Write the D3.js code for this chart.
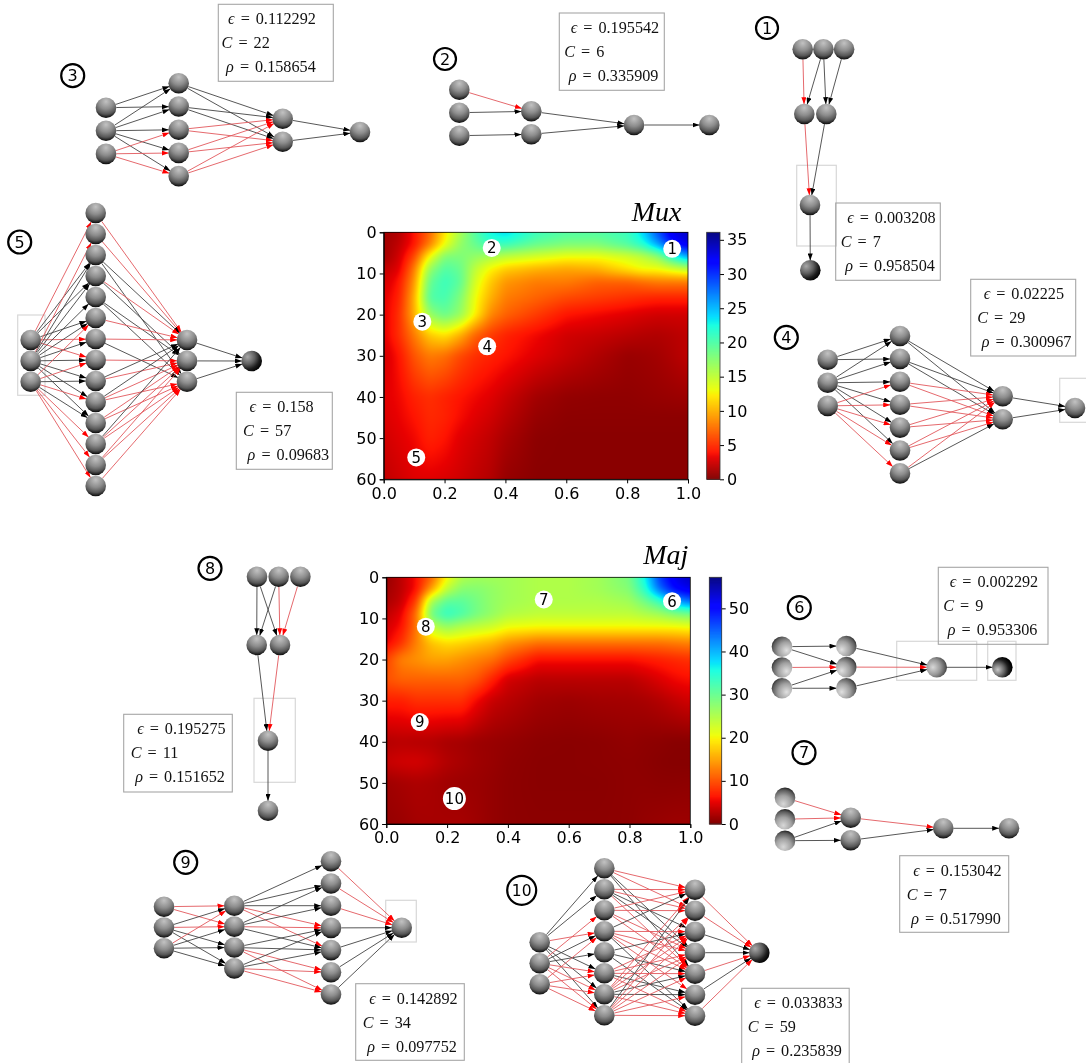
<!DOCTYPE html>
<html><head><meta charset="utf-8">
<script src="https://cdn.jsdelivr.net/npm/d3@7"></script>
<style>
html,body{margin:0;padding:0;background:#fff;overflow:hidden}
#stage{position:relative;width:1086px;height:1063px}
canvas{position:absolute}
svg{position:absolute;left:0;top:0}
</style></head><body><div id="stage"></div>
<script>
// ---------- heat map data ----------
const gridX = [0,.05,.1,.15,.2,.25,.3,.35,.4,.5,.6,.7,.8,.85,.9,.95,1];
const gridY = [0,3,6,9,12,16,20,25,30,40,45,50,60];
const muxValues = [
[1,1.5,4,7,12,16,20,23,24,21,20,20,21,24,29,33,34],
[1,2,4,8,13,17,19,21,21,19,18,18,20,22,26,31,33],
[1,2.5,6,13,18,18,17,16,15,14,13,13,14,15,17,22,26],
[2,3,8,17,20,19,15,12.5,11,10,9.5,10,12,13,13,14,15],
[2.5,4,9,19,21,19.5,14,11,9,8,8,7,7,7.5,8,8,8],
[3,4.5,10,20,20.5,18,13,10,8,7,6,5.5,5,4.7,4.5,4.5,4.5],
[3,5,10,17,19,17,12.5,8.5,7,5.5,4,3.5,3,2.7,2.5,2.5,2.5],
[3,5,8,11,12,10,7,5.5,4.5,3.5,2.5,2.2,1.8,1.6,1.5,1.7,2],
[2.5,4,6.5,8,7.5,6,5,4.5,4,3,2.2,1.5,.8,.9,1.1,1.5,2],
[3,3.5,4.5,5,4.5,4,3.5,3,2.3,1.1,.6,.5,.5,.6,.7,.8,.9],
[2.8,3.3,4,4.8,4.5,3.7,3,2.5,1.8,.7,.4,.4,.4,.4,.4,.4,.4],
[2.5,3,3.5,4.5,4,3,2.5,2,1.3,.4,.3,.3,.3,.3,.3,.3,.3],
[2,2.5,3,3,2.8,2.5,2,1.6,.7,.3,.3,.3,.3,.3,.3,.3,.3]];
const majValues = [
[1,3,6,11,20,25,26,26,26,25,25,26,29,36,47,52,54],
[1.5,3,6,15,24,28,28,27,26,25,25,26,28,34,44,50,52],
[2,3.5,9,26,31,31,29,27,26,25,25,25,26,29,33,40,44],
[3,5,12,30,34,32,29,27,25,24,24,24,24,25,26,28,29],
[4,6,12,24,27,25,24,23,21,20.5,20.5,20.5,20.5,20.5,20.5,20.5,21],
[5,8,13,17,18.5,18,17,16,14,12,12,12,12,12,12,12.5,13],
[9,13,14,15,15,14,13,12,9.5,6,6,6,6,6.5,7,7.5,8],
[10,11,11,11,11,11,10,7,4,2.8,2.8,2.8,2.8,3.5,4.5,5.5,6],
[7,7,8,8,8,8,5.5,3.5,2.8,1.7,1.4,1.7,1.8,2,2.5,3.3,4],
[2.5,2.8,2.6,2.5,2,1.8,1.4,1.2,1,.6,.5,.6,.9,.7,.6,.4,.4],
[3.5,4,4.2,3.5,2.5,2,1.5,1.2,.8,.5,.5,.6,.7,.6,.4,.3,.3],
[1.5,1.9,2.2,2,1.6,1.4,1.3,1,.7,.5,.5,.5,.7,.7,.6,.6,.7],
[1,1.3,1.8,1.9,1.9,1.9,1.5,1,.7,.6,.6,.6,.7,1,1.2,1.4,1.4]];
const muxLabels = ["1","2","3","4","5"];
const muxLabelX = [.948,.355,.127,.34,.107];
const muxLabelY = [4,3.8,21.7,27.7,54.7];
const majLabels = ["6","7","8","9","10"];
const majLabelX = [.94,.518,.13,.11,.224];
const majLabelY = [5.8,5.4,12,35.2,53.8];
const xTicks = [0,.2,.4,.6,.8,1];
const yTicks = [0,10,20,30,40,50,60];
const muxBarTicks = [0,5,10,15,20,25,30,35];
const majBarTicks = [0,10,20,30,40,50];

// ---------- network data ----------
const netIds = [1,2,3,4,5,6,7,8,9,10];
const epsilons = ["0.003208","0.195542","0.112292","0.02225","0.158","0.002292","0.153042","0.195275","0.142892","0.033833"];
const capacities = ["7","6","22","29","57","9","7","11","34","59"];
const rhos = ["0.958504","0.335909","0.158654","0.300967","0.09683","0.953306","0.517990","0.151652","0.097752","0.235839"];
const layerSizes = [[3,2,1,1],[3,2,1,1],[3,5,2,1],[3,7,2,1],[3,14,3,1],[3,3,1,1],[3,2,1,1],[3,2,1,1],[3,4,7,1],[3,8,7,1]];
// k = black edge, r = red edge, . = no edge; one string per source node, one block per layer gap
const edgeMatrices = [
[["r.","kk",".k"],["r","k"],["k"]],
[["r.","k.",".k"],["k","k"],["k"]],
[["kk...","kkkkk","..rrr"],["kk","kk","rr","rr","rr"],["k","k"]],
[["kk.....","kkkkkk.","..rrrrr"],["kk","kk","rr","rr","rr","rr","rk"],["k","k"]],
[["r.kk.krr......",".rkkkkkkkkk...",".....r.rkrkrrr"],
 ["r..","r..","k.k","rk.",".kk","r..","r.k",".r.","kr.","krr",".rr","krr",".rr","..r"],["k","k","k"]],
[["kk.",".r.",".kk"],["k","r","k"],["k"]],
[["r.","r.","kk"],["r","k"],["k"]],
[["kk","kr",".r"],["k","r"],["k"]],
[["rr..","krkk","rkkk"],["kkkrr..",".kkrk..","...kkrr","...kkrr"],["r","r","r","k","k","k","k"]],
[["kk.r.kkk","..rkkrrr","...r.rrr"],
 ["rr.kk..","rrkkr..","rr.rr..","k.rrrrk","..k.k.k","..rrrkr","rrrrkkr","krrrrrr"],["r","r","k","k","r","k","r"]]
];

// ---------- layout (not data) ----------
const layouts = {
1:{v:1,pos:[49.3,114,205,270.3],start:[802.7,804.3,810,810.3],step:[20.7,22,0,0],badge:[767,28,11],box:[835.7,203,104.6,77.3],dx:0,rects:[[796.7,165.3,39.6,80.7]],shade:[0,0,0,2]},
2:{pos:[459.3,531.3,634,709.3],start:[89.7,111.3,125,125],step:[23,23,0,0],badge:[445,59,11],box:[559.3,13,105,77.3],dx:0,rects:[],shade:[0,0,0,0]},
3:{pos:[106,178.7,282.7,360],start:[107.7,83.3,118.7,132],step:[23.1,23.2,23,0],badge:[72.7,75.7,11.5],box:[218.3,4.3,115,77],dx:-1.7,rects:[],shade:[0,0,0,0]},
4:{pos:[827.7,900,1002.7,1075],start:[359.7,336,396.3,408],step:[23.1,22.9,23,0],badge:[786.3,337.3,11.5],box:[970.7,279.3,105,76.7],dx:1.5,rects:[[1059.7,378.3,40,44]],shade:[0,0,0,0]},
5:{pos:[30.7,95.7,187,251.7],start:[340,213,340,361],step:[20.9,21,20.9,0],badge:[19.7,242,11.5],box:[236.3,392.3,96,77],dx:1.8,rects:[[17.7,315,27.3,80.3]],shade:[0,0,0,2]},
6:{pos:[782,846.3,936.7,1002.3],start:[646.7,646,667.3,667.3],step:[20.8,21.1,0,0],badge:[799.3,607.7,11.5],box:[938.3,567.3,109.7,77],dx:0,rects:[[896.7,641.3,80,39],[987.7,641.3,28.3,39]],shade:[3,4,5,6]},
7:{pos:[785,850.7,943.3,1009],start:[797.7,817.7,828.3,828.3],step:[21.5,22.6,0,0],badge:[804,752.7,11.5],box:[899.7,855.7,109,76.6],dx:2,rects:[],shade:[7,0,0,0]},
8:{v:1,pos:[576.7,645,740.7,810.7],start:[257,256.7,268,268],step:[21.7,23.3,0,0],badge:[210,568.3,11.5],box:[123.7,714.3,108.6,77.7],dx:2,rects:[[254,698.3,41.3,84]],shade:[0,0,0,0]},
9:{pos:[164,234.3,331,401.7],start:[906.7,905.7,861.3,927.7],step:[20.8,20.9,22.2,0],badge:[185.7,862.3,11.5],box:[355.7,983.7,108.6,76.6],dx:2,rects:[[385.7,900.3,30.6,41.7]],shade:[0,0,0,0]},
10:{pos:[539.7,604.3,695,759.3],start:[942.3,868.3,889.7,952.7],step:[21,21,21,0],badge:[521.7,890.3,14.5],box:[741.7,988.3,107.5,90],dx:1,rects:[],shade:[0,0,0,2]}
};
const heatLayouts = [
 {vals:muxValues,max:36.1,labels:muxLabels,lx:muxLabelX,ly:muxLabelY,ticks:muxBarTicks,title:"Mux",titleX:631.7,titleY:221,
  left:383.7,right:688,top:232.3,bottom:479.3,barL:706.7,barR:720},
 {vals:majValues,max:57.2,labels:majLabels,lx:majLabelX,ly:majLabelY,ticks:majBarTicks,title:"Maj",titleX:643.3,titleY:564.3,
  left:386.3,right:690.3,top:577.3,bottom:824,barL:709.3,barR:721.7}
];
const shadeDefs = [
 {fx:.5,fy:.2,r:.82,c:["#c2c2c2","#8c8c8c","#565656","#000"]},
 {fx:.5,fy:.2,r:.82,c:["#c2c2c2","#8c8c8c","#565656","#000"]},
 {fx:.3,fy:.3,r:.78,c:["#a8a8a8","#606060","#1e1e1e","#000"]},
 {fx:.72,fy:.68,r:.9,c:["#e0e0e0","#a0a0a0","#5c5c5c","#000"]},
 {fx:.28,fy:.68,r:.9,c:["#e0e0e0","#a0a0a0","#5c5c5c","#000"]},
 {fx:.32,fy:.5,r:.82,c:["#d8d8d8","#989898","#565656","#000"]},
 {fx:.28,fy:.62,r:.68,c:["#c8c8c8","#686868","#1e1e1e","#000"]},
 {fx:.42,fy:.8,r:.88,c:["#d8d8d8","#a0a0a0","#5c5c5c","#000"]}
];
const nodeR = 10.3;

// ---------- colour ----------
const jetR = d3.scaleLinear().domain([0,.35,.66,.89,1]).range([0,0,255,255,128]).clamp(true);
const jetG = d3.scaleLinear().domain([0,.125,.375,.64,.91,1]).range([0,0,255,255,0,0]).clamp(true);
const jetB = d3.scaleLinear().domain([0,.11,.34,.65,1]).range([128,255,255,0,0]).clamp(true);
const jetRev = v => { const t=1-v; return [jetR(t),jetG(t),jetB(t)]; };

const stage = d3.select("#stage");
const svg = stage.append("svg").attr("width",1086).attr("height",1063);
const defs = svg.append("defs");
shadeDefs.forEach((s,i)=>{
  const g=defs.append("radialGradient").attr("id","ball"+i).attr("cx",s.fx).attr("cy",s.fy).attr("r",s.r);
  [0,.45,.75,1].forEach((o,k)=>g.append("stop").attr("offset",o).attr("stop-color",s.c[k]));
});
[["k","#000"],["r","#ff0000"]].forEach(([id,col])=>{
  defs.append("marker").attr("id","arrow"+id).attr("markerUnits","userSpaceOnUse")
   .attr("viewBox","0 0 7 5").attr("markerWidth",7).attr("markerHeight",5)
   .attr("refX",7).attr("refY",2.5).attr("orient","auto")
   .append("path").attr("d","M0,0L7,2.5L0,5Z").attr("fill",col);
});

// ---------- heat maps ----------
heatLayouts.forEach(h=>{
  const x=d3.scaleLinear().domain([0,1]).range([h.left,h.right]);
  const y=d3.scaleLinear().domain([0,60]).range([h.top,h.bottom]);
  const W=Math.round(h.right-h.left), H=Math.round(h.bottom-h.top);
  const cv=stage.insert("canvas","svg").attr("width",W).attr("height",H)
     .style("left",h.left+"px").style("top",h.top+"px").style("width",(h.right-h.left)+"px").style("height",(h.bottom-h.top)+"px").node();
  // value field: bilinear sampling of the read grid, softened like imshow's bicubic
  let f=new Float64Array(W*H);
  const sample=(u,v)=>{
    const i=Math.min(gridX.length-2,Math.max(0,d3.bisectRight(gridX,u)-1));
    const j=Math.min(gridY.length-2,Math.max(0,d3.bisectRight(gridY,v)-1));
    const a=(u-gridX[i])/(gridX[i+1]-gridX[i]), b=(v-gridY[j])/(gridY[j+1]-gridY[j]);
    return (1-a)*(1-b)*h.vals[j][i]+a*(1-b)*h.vals[j][i+1]+(1-a)*b*h.vals[j+1][i]+a*b*h.vals[j+1][i+1];
  };
  for(let r=0;r<H;r++)for(let c=0;c<W;c++)f[r*W+c]=sample(x.invert(h.left+c+.5),y.invert(h.top+r+.5));
  const blur=(src,rad)=>{
    const t=new Float64Array(W*H),o=new Float64Array(W*H);
    for(let r=0;r<H;r++)for(let c=0;c<W;c++){let s=0;for(let d=-rad;d<=rad;d++)s+=src[r*W+Math.min(W-1,Math.max(0,c+d))];t[r*W+c]=s/(2*rad+1);}
    for(let r=0;r<H;r++)for(let c=0;c<W;c++){let s=0;for(let d=-rad;d<=rad;d++)s+=t[Math.min(H-1,Math.max(0,r+d))*W+c];o[r*W+c]=s/(2*rad+1);}
    return o;
  };
  f=blur(blur(f,4),3);
  const ctx=cv.getContext("2d"),img=ctx.createImageData(W,H);
  const nv=d3.scaleLinear().domain([0,h.max]).range([0,1]).clamp(true);
  f.forEach((v,k)=>{const c=jetRev(nv(v));img.data[4*k]=c[0];img.data[4*k+1]=c[1];img.data[4*k+2]=c[2];img.data[4*k+3]=255;});
  ctx.putImageData(img,0,0);

  const g=svg.append("g");
  const fmt=d3.format(".1f");
  const ax=g.append("g").attr("transform",`translate(0,${h.bottom})`).call(d3.axisBottom(x).tickValues(xTicks).tickFormat(fmt).tickSize(4).tickPadding(4));
  const ay=g.append("g").attr("transform",`translate(${h.left},0)`).call(d3.axisLeft(y).tickValues(yTicks).tickSize(4).tickPadding(3));
  [ax,ay].forEach(a=>{a.selectAll("text").attr("font-family","DejaVu Sans").attr("font-size",16).attr("fill","#000");a.select(".domain").attr("stroke","#000");});
  g.append("rect").attr("x",h.left).attr("y",h.top).attr("width",h.right-h.left).attr("height",h.bottom-h.top).attr("fill","none").attr("stroke","#000").attr("stroke-width",.8);
  // colour bar
  const cb=d3.scaleLinear().domain([0,h.max]).range([h.bottom,h.top]);
  const levels=d3.range(0,h.max,h.max/247);
  g.selectAll(null).data(levels).join("rect").attr("x",h.barL).attr("width",h.barR-h.barL)
   .attr("y",d=>cb(d+h.max/247)).attr("height",h.max/247*(h.bottom-h.top)/h.max+.6)
   .attr("fill",d=>{const c=jetRev(d/h.max);return `rgb(${c[0]},${c[1]},${c[2]})`;});
  const ac=g.append("g").attr("transform",`translate(${h.barR},0)`).call(d3.axisRight(cb).tickValues(h.ticks).tickFormat(d3.format("d")).tickSize(4).tickPadding(3));
  ac.selectAll("text").attr("font-family","DejaVu Sans").attr("font-size",16).attr("fill","#000");
  ac.select(".domain").remove();
  g.append("rect").attr("x",h.barL).attr("y",h.top).attr("width",h.barR-h.barL).attr("height",h.bottom-h.top).attr("fill","none").attr("stroke","#333").attr("stroke-width",.8);
  g.append("text").attr("x",h.titleX).attr("y",h.titleY).text(h.title).attr("font-family","Liberation Serif").attr("font-style","italic").attr("font-size",28).attr("fill","#000");
  // white numbered markers
  h.labels.forEach((t,i)=>{
    const wide=t.length>1;
    g.append("circle").attr("cx",x(h.lx[i])).attr("cy",y(h.ly[i])).attr("r",wide?11.5:9).attr("fill","#fff");
    g.append("text").attr("x",x(h.lx[i])).attr("y",y(h.ly[i])).attr("dy",".36em").attr("text-anchor","middle").text(t)
     .attr("font-family","DejaVu Sans").attr("font-size",15).attr("fill","#000");
  });
});

// ---------- networks ----------
netIds.forEach((id,n)=>{
  const L=layouts[id], sizes=layerSizes[n], g=svg.append("g");
  // grey selection rectangles
  L.rects.forEach(r=>g.append("rect").attr("x",r[0]).attr("y",r[1]).attr("width",r[2]).attr("height",r[3]).attr("fill","none").attr("stroke","#d8d8d8").attr("stroke-width",1.2));
  // node scales per layer
  const slot=sizes.map((s,l)=>d3.scaleLinear().domain([0,1]).range([L.start[l],L.start[l]+L.step[l]]));
  const nodeXY=(l,i)=>L.v?[slot[l](i),L.pos[l]]:[L.pos[l],slot[l](i)];
  const edges=[];
  edgeMatrices[n].forEach((block,l)=>block.forEach((row,i)=>[...row].forEach((c,j)=>{ if(c!==".") edges.push({l,i,j,c}); })));
  g.selectAll("line.edge").data(edges).join("line").attr("class","edge")
   .each(function(e){
     const [x1,y1]=nodeXY(e.l,e.i),[x2,y2]=nodeXY(e.l+1,e.j);
     const d=Math.hypot(x2-x1,y2-y1),ux=(x2-x1)/d,uy=(y2-y1)/d;
     d3.select(this).attr("x1",x1+ux*nodeR).attr("y1",y1+uy*nodeR).attr("x2",x2-ux*(nodeR-.5)).attr("y2",y2-uy*(nodeR-.5));
   })
   .attr("stroke",e=>e.c==="r"?"#e2585c":"#444").attr("stroke-width",.9)
   .attr("marker-end",e=>`url(#arrow${e.c})`);
  sizes.forEach((s,l)=>d3.range(s).forEach(i=>{
    const [cx,cy]=nodeXY(l,i);
    g.append("circle").attr("cx",cx).attr("cy",cy).attr("r",nodeR).attr("fill",`url(#ball${L.shade[l]})`);
  }));
  // numbered badge
  const [bx,by,br]=L.badge;
  g.append("circle").attr("cx",bx).attr("cy",by).attr("r",br).attr("fill","#fff").attr("stroke","#000").attr("stroke-width",2.2);
  g.append("text").attr("x",bx).attr("y",by).attr("dy",".36em").attr("text-anchor","middle").text(id)
   .attr("font-family","DejaVu Sans").attr("font-size",id===10?15.5:16).attr("fill","#000");
  // parameter box
  const [tx,ty,tw,th]=L.box;
  g.append("rect").attr("x",tx).attr("y",ty).attr("width",tw).attr("height",th).attr("fill","none").attr("stroke","#a6a6a6").attr("stroke-width",1.1);
  const lines=[["ϵ",epsilons[n],11.5,20],["C",capacities[n],5,44],["ρ",rhos[n],9.5,68]];
  lines.forEach(([sym,val,off,base])=>{
    const t=g.append("text").attr("x",tx+off+L.dx).attr("y",ty+base).attr("font-family","Liberation Serif").attr("font-size",16.2).attr("fill","#111");
    t.append("tspan").attr("font-style","italic").text(sym);
    t.append("tspan").attr("dx",6).text("=");
    t.append("tspan").attr("dx",6).text(val);
  });
});
</script></body></html>
